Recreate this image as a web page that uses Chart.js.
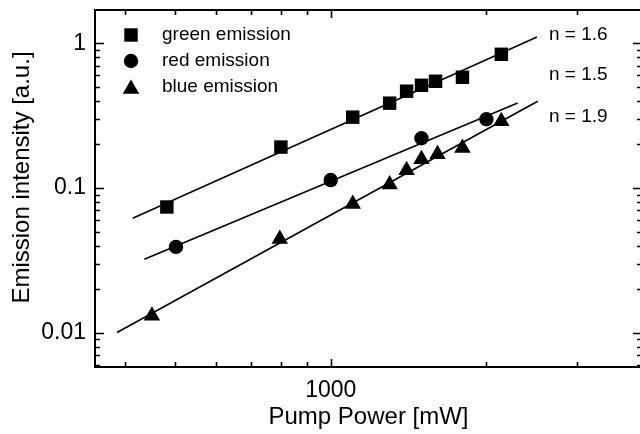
<!DOCTYPE html>
<html>
<head>
<meta charset="utf-8">
<script src="https://cdn.jsdelivr.net/npm/chart.js@4/dist/chart.umd.min.js"></script>
<style>
html,body{margin:0;padding:0;background:#fff;}
#wrap{width:640px;height:434px;overflow:hidden;position:relative;}
</style>
</head>
<body>
<div id="wrap"><canvas id="c" width="660" height="434" style="width:660px;height:434px"></canvas></div>
<script>
// ---- data ----
const greenPower = [482, 801, 1103, 1300, 1402, 1498, 1595, 1798, 2138];
const greenEmission = [0.074, 0.192, 0.309, 0.386, 0.467, 0.513, 0.547, 0.583, 0.840];
const redPower = [502, 1000, 1498, 2000];
const redEmission = [0.0392, 0.1136, 0.221, 0.299];
const bluePower = [451, 797, 1103, 1300, 1402, 1498, 1609, 1798, 2138];
const blueEmission = [0.0131, 0.0445, 0.0775, 0.106, 0.133, 0.158, 0.171, 0.189, 0.289];
const greenFitPower = [414, 2506];
const greenFit = [0.0618, 1.105];
const redFitPower = [436, 2299];
const redFit = [0.0322, 0.3875];
const blueFitPower = [386, 2514];
const blueFit = [0.01004, 0.398];
const seriesNames = ['green emission', 'red emission', 'blue emission'];
const slopeLabels = ['n = 1.6', 'n = 1.5', 'n = 1.9'];
const xMajorTicks = [1000];
const xMinorTicks = [400, 500, 600, 700, 800, 900, 2000, 3000, 4000];
const yMajorTicks = [0.01, 0.1, 1];
const yMinorTicks = [0.006, 0.007, 0.008, 0.009, 0.02, 0.03, 0.04, 0.05, 0.06, 0.07, 0.08, 0.09, 0.2, 0.3, 0.4, 0.5, 0.6, 0.7, 0.8, 0.9];
const xTitle = 'Pump Power [mW]';
const yTitle = 'Emission intensity [a.u.]';

const FONT = "'Liberation Sans', Arial, Helvetica, sans-serif";
const pts = (xs, ys) => xs.map((x, i) => ({x: x, y: ys[i]}));

function drawMarker(ctx, style, x, y, r) {
  ctx.beginPath();
  if (style === 'rect') {
    const s = Math.SQRT1_2 * r;
    ctx.rect(x - s, y - s, 2 * s, 2 * s);
  } else if (style === 'circle') {
    ctx.arc(x, y, r, 0, Math.PI * 2);
  } else {
    let a = 0;
    ctx.moveTo(x + Math.sin(a) * r, y - Math.cos(a) * r);
    a += 2 * Math.PI / 3;
    ctx.lineTo(x + Math.sin(a) * r, y - Math.cos(a) * r);
    a += 2 * Math.PI / 3;
    ctx.lineTo(x + Math.sin(a) * r, y - Math.cos(a) * r);
    ctx.closePath();
  }
  ctx.fill();
}

const decor = {
  id: 'decor',
  afterDraw(chart) {
    const ctx = chart.ctx, a = chart.chartArea;
    const xs = chart.scales.x, ys = chart.scales.y;
    ctx.save();
    ctx.strokeStyle = '#000';
    ctx.fillStyle = '#000';
    // frame
    ctx.lineWidth = 2;
    ctx.strokeRect(a.left, a.top, a.right - a.left, a.bottom - a.top);
    // inward ticks
    ctx.lineWidth = 1.6;
    const tick = (vals, len) => {
      vals.forEach(v => {
        const px = Math.round(xs.getPixelForValue(v)) + 0.5;
        if (px < a.left || px > a.right) return;
        ctx.beginPath();
        ctx.moveTo(px, a.bottom); ctx.lineTo(px, a.bottom - len);
        ctx.moveTo(px, a.top); ctx.lineTo(px, a.top + len);
        ctx.stroke();
      });
    };
    const ytick = (vals, len) => {
      vals.forEach(v => {
        const py = Math.round(ys.getPixelForValue(v)) + 0.5;
        if (py < a.top || py > a.bottom) return;
        ctx.beginPath();
        ctx.moveTo(a.left, py); ctx.lineTo(a.left + len, py);
        ctx.moveTo(a.right, py); ctx.lineTo(a.right - len, py);
        ctx.stroke();
      });
    };
    tick(xMajorTicks, 8); tick(xMinorTicks, 5);
    ytick(yMajorTicks, 9); ytick(yMinorTicks, 5);
    // legend
    const styles = ['rect', 'circle', 'triangle'];
    const radii = [9.5, 7.2, 9.5];
    const ly = [35, 61, 87];
    ctx.font = '19px ' + FONT;
    ctx.textBaseline = 'middle';
    ctx.textAlign = 'left';
    seriesNames.forEach((n, i) => {
      drawMarker(ctx, styles[i], 131, ly[i] + (i === 2 ? 2 : 0), radii[i]);
      ctx.fillText(n, 162, ly[i]);
    });
    // slope labels
    const sy = [35, 75, 117];
    slopeLabels.forEach((t, i) => ctx.fillText(t, 549, sy[i]));
    // y title
    ctx.font = '24px ' + FONT;
    ctx.translate(29, 177.5);
    ctx.rotate(-Math.PI / 2);
    ctx.textAlign = 'center';
    ctx.textBaseline = 'alphabetic';
    ctx.fillText(yTitle, 0, 0);
    ctx.restore();
  }
};

const lineDs = (xs, ys) => ({
  type: 'line', data: pts(xs, ys), borderColor: '#000', borderWidth: 1.6,
  pointRadius: 0, fill: false, showLine: true, tension: 0
});
const markDs = (xs, ys, style, r) => ({
  type: 'scatter', data: pts(xs, ys), pointStyle: style, pointRadius: r, pointHoverRadius: r,
  backgroundColor: '#000', borderColor: '#000', borderWidth: 0, showLine: false
});

new Chart(document.getElementById('c'), {
  data: {
    datasets: [
      lineDs(greenFitPower, greenFit),
      lineDs(redFitPower, redFit),
      lineDs(blueFitPower, blueFit),
      markDs(greenPower, greenEmission, 'rect', 9.5),
      markDs(redPower, redEmission, 'circle', 7.2),
      markDs(bluePower, blueEmission, 'triangle', 9.5)
    ]
  },
  options: {
    responsive: false,
    animation: false,
    devicePixelRatio: 1,
    layout: {padding: {top: 10, right: 18, left: 0, bottom: 0}},
    plugins: {legend: {display: false}, tooltip: {enabled: false}},
    scales: {
      x: {
        type: 'logarithmic', min: 350, max: 4000,
        grid: {display: false, drawTicks: false},
        border: {display: false},
        afterBuildTicks: s => { s.ticks = xMajorTicks.map(v => ({value: v})); },
        afterFit: s => { s.height = 67; s.paddingLeft = 0; s.paddingRight = 0; },
        ticks: {
          autoSkip: false, maxRotation: 0, padding: 10, color: '#000',
          font: {family: FONT, size: 23},
          callback: v => xMajorTicks.includes(v) ? String(v) : ''
        },
        title: {display: true, text: xTitle, color: '#000', font: {family: FONT, size: 24}, padding: {top: 0, bottom: 2}}
      },
      y: {
        type: 'logarithmic', min: 0.0058, max: 1.7,
        grid: {display: false, drawTicks: false},
        border: {display: false},
        afterBuildTicks: s => { s.ticks = yMajorTicks.map(v => ({value: v})); },
        afterFit: s => { s.width = 95; s.paddingTop = 0; s.paddingBottom = 0; },
        ticks: {
          autoSkip: false, padding: 9, color: '#000',
          font: {family: FONT, size: 23},
          callback: v => yMajorTicks.includes(v) ? String(v) : ''
        }
      }
    }
  },
  plugins: [decor]
});
</script>
</body>
</html>
